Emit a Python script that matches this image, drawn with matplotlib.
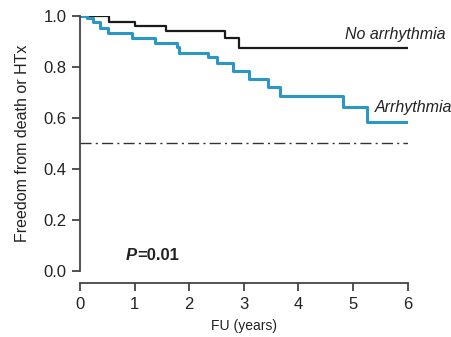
import matplotlib.pyplot as plt
import numpy as np

plt.rcParams['font.family'] = ['Liberation Sans', 'DejaVu Sans']

# Kaplan-Meier step points (years, survival)
no_arr_t = [0.0, 0.54, 1.01, 1.58, 2.66, 2.91, 6.0]
no_arr_s = [1.0, 0.974, 0.961, 0.942, 0.913, 0.875, 0.875]

arr_t = [0.0, 0.12, 0.24, 0.37, 0.52, 0.95, 1.37, 1.77, 1.82, 2.35, 2.50,
         2.81, 3.09, 3.45, 3.66, 4.82, 5.25, 6.0]
arr_s = [1.0, 0.991, 0.974, 0.952, 0.932, 0.913, 0.895, 0.876, 0.856, 0.838,
         0.817, 0.784, 0.753, 0.720, 0.686, 0.642, 0.585, 0.585]

ref_level = 0.5
xticks = [0, 1, 2, 3, 4, 5, 6]
yticks = [0.0, 0.2, 0.4, 0.6, 0.8, 1.0]

fig = plt.figure(figsize=(4.52, 3.37), dpi=100)
ax = fig.add_axes([0.177, 0.196, 0.725, 0.757])

ax.step(no_arr_t, no_arr_s, where='post', color='#1a1a1a', lw=1.6)
ax.step(arr_t, arr_s, where='post', color='#2b97c4', lw=2.2)
ax.plot([0, 6], [ref_level, ref_level], color='#333333', lw=1.0,
        ls=(0, (8, 3, 1.5, 3)))

ax.text(5.77, 0.928, 'No arrhythmia', style='italic', fontsize=11.5,
        ha='center', va='center', color='#222222')
ax.text(6.1, 0.64, 'Arrhythmia', style='italic', fontsize=11.5,
        ha='center', va='center', color='#222222')
# p-value label
ax.text(1.04, 0.06, 'P', fontsize=12, fontweight='bold', style='italic',
        ha='right', va='center', color='#222222')
ax.text(1.04, 0.06, '=0.01', fontsize=12, fontweight='bold',
        ha='left', va='center', color='#222222')

ax.set_xlim(0, 6)
ax.set_ylim(0, 1.0)
ax.set_xticks(xticks)
ax.set_yticks(yticks)
ax.set_yticklabels([f'{v:.1f}' for v in yticks])
ax.tick_params(labelsize=12, width=1.3, length=6, color='#444444',
               labelcolor='#222222')
ax.spines['top'].set_visible(False)
ax.spines['right'].set_visible(False)
for s in ['left', 'bottom']:
    ax.spines[s].set_color('#444444')
    ax.spines[s].set_linewidth(1.3)
ax.spines['bottom'].set_position(('outward', 9))

ax.set_ylabel('Freedom from death or HTx', fontsize=11.5, color='#222222',
              labelpad=10)
ax.set_xlabel('FU (years)', fontsize=10, color='#222222', labelpad=5)

fig.savefig('out.png', dpi=100)
